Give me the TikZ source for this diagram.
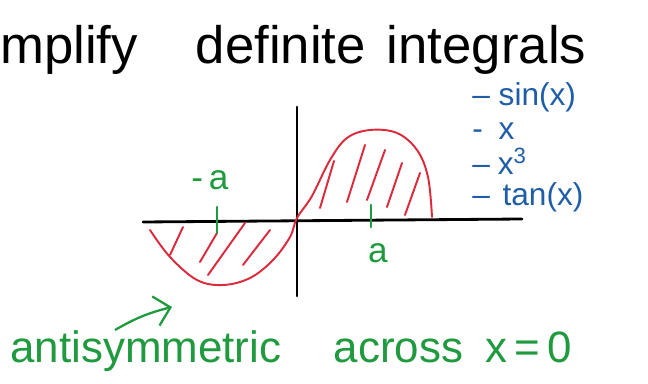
\documentclass[tikz,border=0pt]{standalone}
\usepackage{fontspec}
\usepackage{xcolor}
\usepackage{tikz}
\usetikzlibrary{arrows.meta,positioning}
\setmainfont{Liberation Sans}
\definecolor{inkred}{HTML}{DC2A3C}
\definecolor{inkgreen}{HTML}{1F9A3E}
\definecolor{inkblue}{HTML}{1F5EA6}

\begin{document}
\begin{tikzpicture}[x=0.02cm, y=-0.02cm, node distance=0.7cm, every node/.style={inner sep=0pt}]
    \tikzstyle{title}=[font=\fontsize{30}{34}\selectfont,anchor=base west]
    \tikzstyle{item}=[font=\fontsize{18}{21}\selectfont,text=inkblue,anchor=west]
    \tikzstyle{greenlabel}=[font=\fontsize{20}{22}\selectfont,text=inkgreen]
    \tikzstyle{hatch}=[inkred,line width=1.1pt,line cap=round]
    \tikzstyle{tickline}=[inkgreen,line width=1.6pt,line cap=round]
    \useasboundingbox (0,0) rectangle (648,384);
    \node[title] (head) at (0,64) {mplify\hspace{1.1em}definite\hspace{0.4em}integrals};
    \node[item] (sinx) at (472,97) {-- sin(x)};
    \node[item,below=0.68cm of sinx.west,anchor=west] (idx) {-\hspace{0.5em}x};
    \node[item,below=0.6cm of idx.west,anchor=west] (cube) {--\hspace{0.25em}x\textsuperscript{3}};
    \node[item,below=0.72cm of cube.west,anchor=west] (tanx) {--\hspace{0.4em}tan(x)};
    \coordinate (xl) at (143,222);
    \coordinate (xr) at (522,219);
    \coordinate (yt) at (297,107);
    \coordinate (yb) at (297,296);
    \draw[line width=1.6pt,line cap=round] (xl) -- (xr);
    \draw[line width=1.6pt,line cap=round] (yt) -- (yb);
    \draw[inkred,line width=1.1pt,line cap=round] plot[smooth,tension=0.6] coordinates {(150,230) (170,257) (197,280) (223,285) (250,278) (273,260) (290,237) (297,218) (312,196) (330,160) (347,138) (370,130) (397,133) (417,150) (428,177) (432,217)};
    \draw[hatch] (170,255) -- (183,227);
    \draw[hatch] (200,262) -- (217,233);
    \draw[hatch] (208,275) -- (245,223);
    \draw[hatch] (243,265) -- (270,230);
    \draw[hatch] (320,208) -- (334,161);
    \draw[hatch] (347,202) -- (365,145);
    \draw[hatch] (367,200) -- (385,150);
    \draw[hatch] (387,207) -- (402,163);
    \draw[hatch] (405,215) -- (420,173);
    \draw[tickline] (217,207) -- (217,233);
    \draw[tickline] (371,205) -- (371,227);
    \node[greenlabel] (mina) at (210,180) {-\,a};
    \node[greenlabel] (plusa) at (378,253) {a};
    \node[greenlabel,font=\fontsize{25}{28}\selectfont,anchor=base west] (note) at (10,362) {antisymmetric\hspace{1.2em}across\hspace{0.5em}x\,=\,0};
    \coordinate (tail) at (115,330);
    \coordinate (tip) at (172,307);
    \draw[-{Straight Barb[length=3mm]},inkgreen,line width=1.3pt] (tail) to[bend left=8] (tip);
\end{tikzpicture}
\end{document}
